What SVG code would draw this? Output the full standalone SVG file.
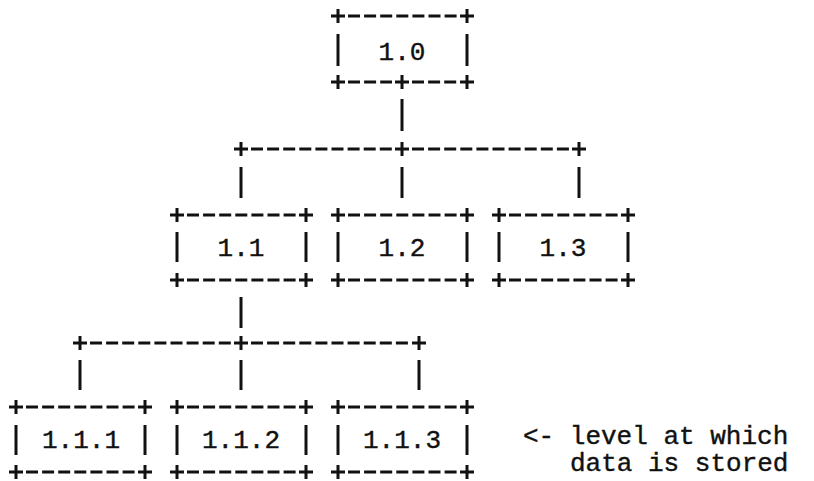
<svg xmlns="http://www.w3.org/2000/svg" xmlns:xlink="http://www.w3.org/1999/xlink" width="814" height="481" viewBox="0 0 814 481">
<style>
.ln{stroke:#111;stroke-width:3;fill:none;stroke-linecap:butt}
.dh{stroke-dasharray:12 4.1}
.t{font-family:"Liberation Mono","DejaVu Sans Mono",monospace;font-size:26px;fill:#111;stroke:#111;stroke-width:0.4}
.lbl{text-anchor:middle}
</style>
<defs>
<path id="p" class="ln" d="M-7 0H7M0-7V7"/>
</defs>
<rect width="814" height="481" fill="#fff"/>

<g id="connectors">
<line class="ln" x1="402" y1="99" x2="402" y2="131"/>
<line class="ln dh" x1="251" y1="149" x2="392" y2="149"/>
<line class="ln dh" x1="412" y1="149" x2="569" y2="149"/>
<use xlink:href="#p" x="241" y="149"/>
<use xlink:href="#p" x="402" y="149"/>
<use xlink:href="#p" x="579" y="149"/>
<line class="ln" x1="241" y1="167" x2="241" y2="198"/>
<line class="ln" x1="402" y1="167" x2="402" y2="198"/>
<line class="ln" x1="579" y1="167" x2="579" y2="198"/>
<line class="ln" x1="241" y1="297" x2="241" y2="328"/>
<line class="ln dh" x1="90" y1="343" x2="231" y2="343"/>
<line class="ln dh" x1="251" y1="343" x2="408" y2="343"/>
<use xlink:href="#p" x="80" y="343"/>
<use xlink:href="#p" x="241" y="343"/>
<use xlink:href="#p" x="419" y="343"/>
<line class="ln" x1="80" y1="360" x2="80" y2="390"/>
<line class="ln" x1="241" y1="360" x2="241" y2="390"/>
<line class="ln" x1="419" y1="360" x2="419" y2="390"/>
</g>

<g id="n1_0">
<line class="ln dh" x1="348" y1="16" x2="457" y2="16"/>
<line class="ln dh" x1="348" y1="82" x2="392" y2="82"/>
<line class="ln dh" x1="412" y1="82" x2="457" y2="82"/>
<use xlink:href="#p" x="338" y="16"/><use xlink:href="#p" x="467" y="16"/>
<use xlink:href="#p" x="338" y="82"/><use xlink:href="#p" x="402" y="82"/><use xlink:href="#p" x="467" y="82"/>
<line class="ln" x1="338" y1="34" x2="338" y2="66"/>
<line class="ln" x1="467" y1="34" x2="467" y2="66"/>
<text class="t lbl" x="402" y="60">1.0</text>
</g>

<g id="n1_1">
<line class="ln dh" x1="187" y1="215" x2="296" y2="215"/>
<line class="ln dh" x1="187" y1="280" x2="296" y2="280"/>
<use xlink:href="#p" x="177" y="215"/><use xlink:href="#p" x="306" y="215"/>
<use xlink:href="#p" x="177" y="280"/><use xlink:href="#p" x="306" y="280"/>
<line class="ln" x1="177" y1="232" x2="177" y2="262"/>
<line class="ln" x1="306" y1="232" x2="306" y2="262"/>
<text class="t lbl" x="241" y="256">1.1</text>
</g>

<g id="n1_2">
<line class="ln dh" x1="348" y1="215" x2="457" y2="215"/>
<line class="ln dh" x1="348" y1="280" x2="457" y2="280"/>
<use xlink:href="#p" x="338" y="215"/><use xlink:href="#p" x="467" y="215"/>
<use xlink:href="#p" x="338" y="280"/><use xlink:href="#p" x="467" y="280"/>
<line class="ln" x1="338" y1="232" x2="338" y2="262"/>
<line class="ln" x1="467" y1="232" x2="467" y2="262"/>
<text class="t lbl" x="402" y="256">1.2</text>
</g>

<g id="n1_3">
<line class="ln dh" x1="509" y1="215" x2="618" y2="215"/>
<line class="ln dh" x1="509" y1="280" x2="618" y2="280"/>
<use xlink:href="#p" x="499" y="215"/><use xlink:href="#p" x="628" y="215"/>
<use xlink:href="#p" x="499" y="280"/><use xlink:href="#p" x="628" y="280"/>
<line class="ln" x1="499" y1="232" x2="499" y2="262"/>
<line class="ln" x1="628" y1="232" x2="628" y2="262"/>
<text class="t lbl" x="563" y="256">1.3</text>
</g>

<g id="n1_1_1">
<line class="ln dh" x1="26" y1="407" x2="135" y2="407"/>
<line class="ln dh" x1="26" y1="472" x2="135" y2="472"/>
<use xlink:href="#p" x="16" y="407"/><use xlink:href="#p" x="145" y="407"/>
<use xlink:href="#p" x="16" y="472"/><use xlink:href="#p" x="145" y="472"/>
<line class="ln" x1="16" y1="425" x2="16" y2="455"/>
<line class="ln" x1="145" y1="425" x2="145" y2="455"/>
<text class="t lbl" x="81" y="448">1.1.1</text>
</g>

<g id="n1_1_2">
<line class="ln dh" x1="187" y1="407" x2="296" y2="407"/>
<line class="ln dh" x1="187" y1="472" x2="296" y2="472"/>
<use xlink:href="#p" x="177" y="407"/><use xlink:href="#p" x="306" y="407"/>
<use xlink:href="#p" x="177" y="472"/><use xlink:href="#p" x="306" y="472"/>
<line class="ln" x1="177" y1="425" x2="177" y2="455"/>
<line class="ln" x1="306" y1="425" x2="306" y2="455"/>
<text class="t lbl" x="241" y="448">1.1.2</text>
</g>

<g id="n1_1_3">
<line class="ln dh" x1="348" y1="407" x2="457" y2="407"/>
<line class="ln dh" x1="348" y1="472" x2="457" y2="472"/>
<use xlink:href="#p" x="338" y="407"/><use xlink:href="#p" x="467" y="407"/>
<use xlink:href="#p" x="338" y="472"/><use xlink:href="#p" x="467" y="472"/>
<line class="ln" x1="338" y1="425" x2="338" y2="455"/>
<line class="ln" x1="467" y1="425" x2="467" y2="455"/>
<text class="t lbl" x="402" y="448">1.1.3</text>
</g>

<g id="note">
<text class="t" x="523" y="444" xml:space="preserve">&lt;- level at which</text>
<text class="t" x="570" y="471">data is stored</text>
</g>
</svg>
